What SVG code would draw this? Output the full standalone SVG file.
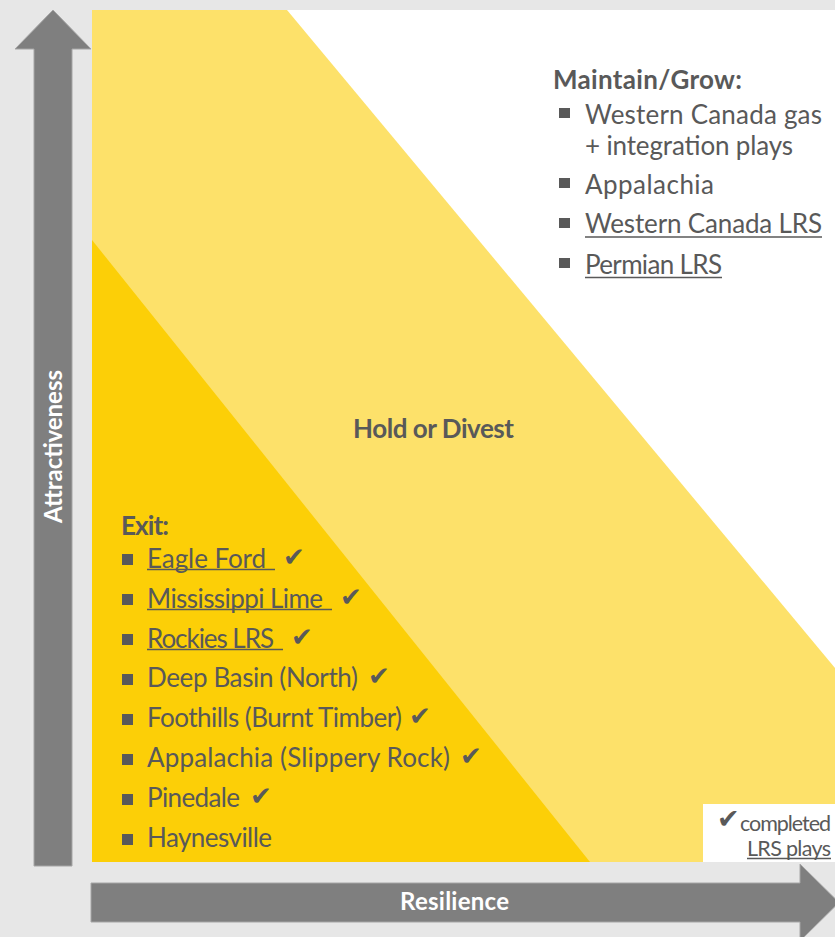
<svg xmlns="http://www.w3.org/2000/svg" width="835" height="937" viewBox="0 0 835 937">
<style>
.t{font-family:Lato,"Liberation Sans",Arial,sans-serif;fill:#595959;font-size:26px}
.b{font-weight:bold}
.w{fill:#ffffff;font-weight:bold}
.ck{font-family:"DejaVu Sans",sans-serif;fill:#595959;font-size:26px}
.ul{stroke:#595959;stroke-width:1.6}
.sq{fill:#595959}
.ax{fill:#7f7f7f;stroke:#a6a6a6;stroke-width:1}
</style>
<rect x="0" y="0" width="835" height="937" fill="#e7e7e7"/>
<g id="regions">
<rect x="92" y="10" width="743" height="852" fill="#ffffff"/>
<polygon points="92,10 287,10 835,668 835,862 92,862" fill="#fde16a"/>
<polygon points="92,240 590,862 92,862" fill="#fccf07"/>
</g>
<g id="axes">
<polygon class="ax" points="53,10 91,49 72,49 72,866 34,866 34,49 15,49"/>
<polygon class="ax" points="91,883 800,883 800,864 839,902.5 800,941 800,922 91,922"/>
<text class="t w" style="font-size:24px" transform="translate(62,446.5) rotate(-90)" text-anchor="middle" textLength="153">Attractiveness</text>
<text class="t w" style="font-size:24px" x="454.5" y="910" text-anchor="middle" textLength="109">Resilience</text>
</g>
<g id="maintain-grow">
<text class="t b" x="553" y="89" textLength="189">Maintain/Grow:</text>
<rect class="sq" x="559" y="108" width="11" height="10"/>
<text class="t" x="585" y="123.5" textLength="237">Western Canada gas</text>
<text class="t" x="585" y="154.5" textLength="208">+ integration plays</text>
<rect class="sq" x="559" y="178" width="11" height="10"/>
<text class="t" x="585" y="193.5" textLength="129">Appalachia</text>
<rect class="sq" x="559" y="218" width="11" height="10"/>
<text class="t" x="585" y="233" textLength="237">Western Canada LRS</text>
<line class="ul" x1="585" y1="237" x2="822" y2="237"/>
<rect class="sq" x="559" y="258" width="11" height="10"/>
<text class="t" x="585" y="273.5" textLength="137">Permian LRS</text>
<line class="ul" x1="585" y1="277.5" x2="722" y2="277.5"/>
</g>
<g id="hold-or-divest">
<text class="t b" x="353" y="438" textLength="161">Hold or Divest</text>
</g>
<g id="exit">
<text class="t b" x="121" y="535" textLength="48">Exit:</text>
<rect class="sq" x="122" y="554" width="11" height="11"/>
<text class="t" x="147" y="567.5" textLength="119">Eagle Ford</text>
<line class="ul" x1="147" y1="569.5" x2="275" y2="569.5"/>
<text class="ck" x="283" y="566">✔</text>
<rect class="sq" x="122" y="594" width="11" height="11"/>
<text class="t" x="147" y="607.5" textLength="176">Mississippi Lime</text>
<line class="ul" x1="147" y1="609.5" x2="332" y2="609.5"/>
<text class="ck" x="340" y="606">✔</text>
<rect class="sq" x="122" y="634" width="11" height="11"/>
<text class="t" x="147" y="647.5" textLength="127">Rockies LRS</text>
<line class="ul" x1="147" y1="649.5" x2="283" y2="649.5"/>
<text class="ck" x="291" y="646">✔</text>
<rect class="sq" x="122" y="674" width="11" height="11"/>
<text class="t" x="147" y="687" textLength="211">Deep Basin (North)</text>
<text class="ck" x="368" y="685">✔</text>
<rect class="sq" x="122" y="714" width="11" height="11"/>
<text class="t" x="147" y="727" textLength="255">Foothills (Burnt Timber)</text>
<text class="ck" x="409" y="725">✔</text>
<rect class="sq" x="122" y="754" width="11" height="11"/>
<text class="t" x="147" y="767" textLength="303">Appalachia (Slippery Rock)</text>
<text class="ck" x="460" y="765">✔</text>
<rect class="sq" x="122" y="794" width="11" height="11"/>
<text class="t" x="147" y="807" textLength="93">Pinedale</text>
<text class="ck" x="250" y="805">✔</text>
<rect class="sq" x="122" y="834" width="11" height="11"/>
<text class="t" x="147" y="847" textLength="125">Haynesville</text>
</g>
<g id="legend">
<rect x="703" y="804" width="132" height="58" fill="#ffffff"/>
<text class="ck" x="717" y="828" style="font-size:27px">✔</text>
<text class="t" style="font-size:21.5px" x="831" y="831" text-anchor="end" textLength="91">completed</text>
<text class="t" style="font-size:21.5px" x="831" y="855.5" text-anchor="end" textLength="84">LRS plays</text>
<line class="ul" x1="747" y1="858.5" x2="831" y2="858.5"/>
</g>
</svg>
